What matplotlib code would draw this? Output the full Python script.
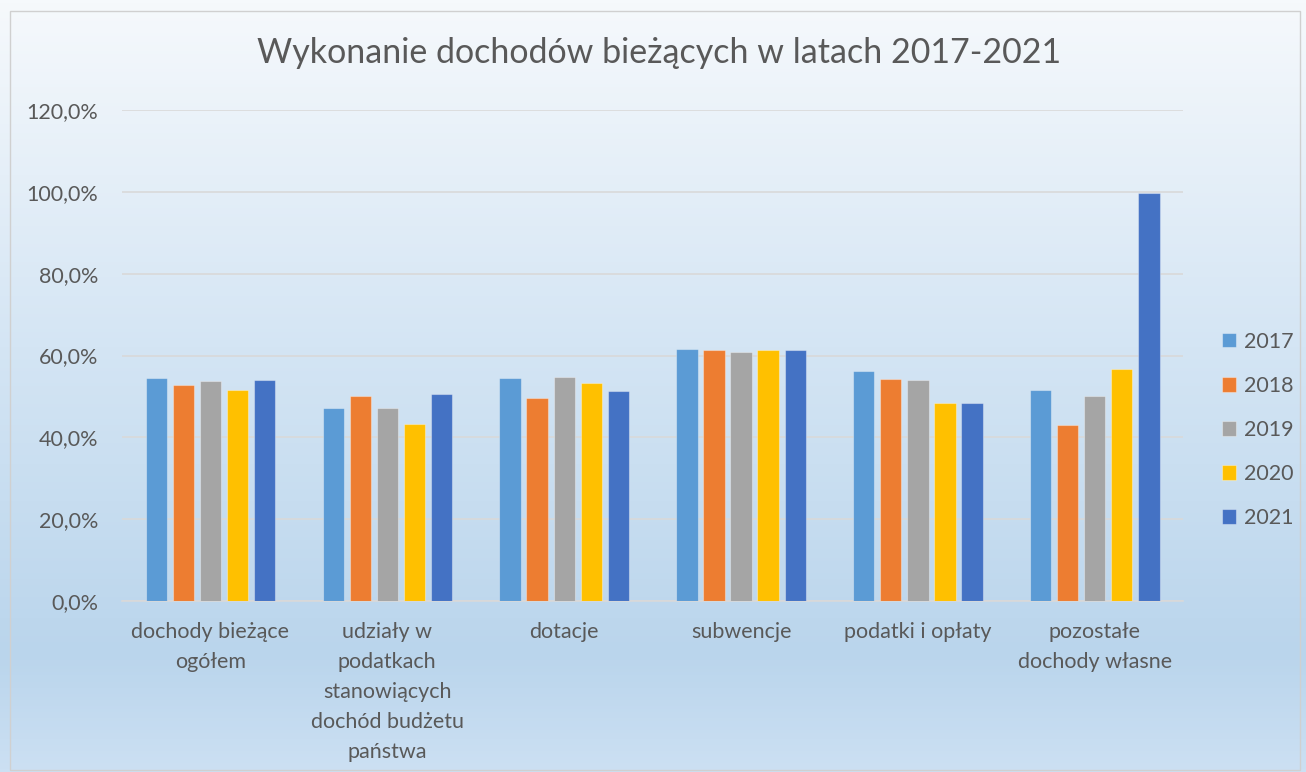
import matplotlib.pyplot as plt
import numpy as np
from matplotlib.colors import LinearSegmentedColormap
from matplotlib.patches import Rectangle

# Data (percent of plan executed)
categories = ["dochody bieżące\nogółem",
              "udziały w\npodatkach\nstanowiących\ndochód budżetu\npaństwa",
              "dotacje",
              "subwencje",
              "podatki i opłaty",
              "pozostałe\ndochody własne"]
years = ["2017", "2018", "2019", "2020", "2021"]
v2017 = [54.6, 47.2, 54.6, 61.7, 56.2, 51.6]
v2018 = [52.9, 50.2, 49.7, 61.4, 54.2, 43.1]
v2019 = [53.7, 47.2, 54.8, 60.8, 54.0, 50.2]
v2020 = [51.6, 43.2, 53.3, 61.4, 48.3, 56.8]
v2021 = [54.0, 50.6, 51.3, 61.4, 48.5, 99.7]
series = [v2017, v2018, v2019, v2020, v2021]
colors = ["#5b9bd5", "#ed7d31", "#a5a5a5", "#ffc000", "#4472c4"]

plt.rcParams['font.family'] = ['Lato', 'DejaVu Sans']
text_color = "#595959"

fig = plt.figure(figsize=(13.06, 7.72), dpi=100)

# Gradient background of the chart area
bg = fig.add_axes([0, 0, 1, 1], zorder=-10)
grad = LinearSegmentedColormap.from_list(
    "bg", [(0.0, "#f6f9fc"), (0.45, "#d4e5f4"), (0.85, "#bad5ec"), (1.0, "#cce0f3")])
bg.imshow(np.linspace(0, 1, 256).reshape(-1, 1), aspect='auto', cmap=grad,
          extent=[0, 1, 0, 1], origin='upper')
bg.set_xlim(0, 1)
bg.set_ylim(0, 1)
bg.add_patch(Rectangle((10 / 1306, 2 / 772), 1290 / 1306, 759 / 772,
                       fill=False, edgecolor="#d0d0d0", linewidth=1))
bg.axis('off')

ax = fig.add_axes([0.0934, 0.2215, 0.8126, 0.636])
ax.set_facecolor('none')

x = np.arange(len(categories))
width = 0.12
step = 0.153
for i, (vals, col, yr) in enumerate(zip(series, colors, years)):
    ax.bar(x + (i - 2) * step, vals, width, color=col, label=yr,
           edgecolor=(1, 1, 1, 0.35), linewidth=0.8, zorder=3)

ax.set_xlim(-0.5, len(categories) - 0.5)
ax.set_ylim(0, 120)
ax.set_yticks(np.arange(0, 121, 20))
ax.set_yticklabels([f"{v},0%" for v in range(0, 121, 20)])
ax.set_xticks(x)
ax.set_xticklabels(categories, linespacing=1.62, va='top')
ax.grid(axis='y', color="#d9d9d9", linewidth=1.2, zorder=0)
ax.tick_params(axis='both', length=0, labelsize=15.5, colors=text_color)
ax.tick_params(axis='y', pad=17)
ax.tick_params(axis='x', pad=15)
for side in ['top', 'right', 'left']:
    ax.spines[side].set_visible(False)
ax.spines['bottom'].set_color("#d9d9d9")
ax.spines['bottom'].set_linewidth(1.2)

fig.text(0.505, 0.931, "Wykonanie dochodów bieżących w latach 2017-2021",
         ha='center', va='center', fontsize=24.5, color=text_color)

handles, labels = ax.get_legend_handles_labels()
leg = fig.legend(handles, labels, loc='center left',
                 bbox_to_anchor=(1222 / 1306, 1 - 430 / 772), frameon=False,
                 fontsize=15.5, handlelength=0.65, handleheight=0.65,
                 handletextpad=0.35, labelspacing=1.12,
                 borderaxespad=0, borderpad=0)
for t in leg.get_texts():
    t.set_color(text_color)

fig.savefig("out.png", dpi=100)
